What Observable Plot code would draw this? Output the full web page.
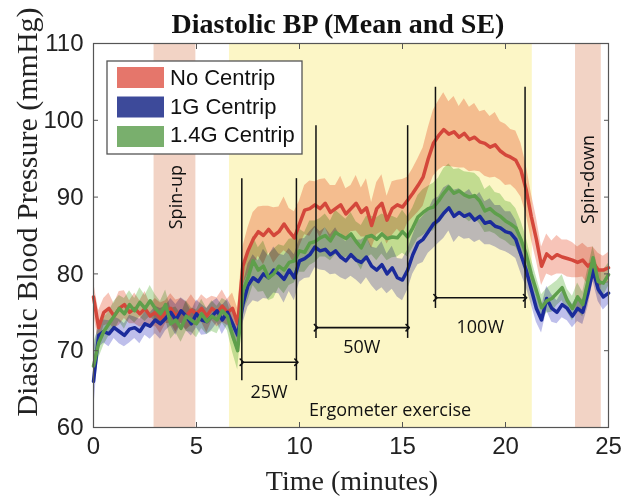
<!DOCTYPE html>
<html><head><meta charset="utf-8">
<script src="https://cdn.jsdelivr.net/npm/d3@7"></script>
<script src="https://cdn.jsdelivr.net/npm/@observablehq/plot@0.6"></script>
<style>body{margin:0;background:#fff}#chart{width:624px;height:500px}</style>
</head><body><div id="chart"></div>
<script>
// ---- data (t = 0 … 25 min, every 0.25 min) ----
const timeStep = 0.25;
const noCentrip = [77,73,75,75.5,74.5,75.5,76,75,75.5,74.8,75.5,74.5,75,74.2,75,75.5,74.5,75.2,74.5,75.3,74.8,75.5,74.5,75.5,75,75.8,75,75.5,
  73.5,81,83,84.5,85.5,85,85.8,85,85.5,86.5,85.5,84.7,
  86.5,88.3,88.5,89,88.5,89.2,88,88.5,89,87.8,88.5,89.2,88,88.6,86.3,88.5,89.2,87,88.5,89,88.7,89.6,
  90.5,91.5,92.6,95,97,98,98.8,98.2,98.5,97.8,98.3,97.5,97.8,97.2,97,96.5,96.8,96,95.5,95.2,94.8,93.5,91,
  87.5,84.5,81,82.6,82,82.5,82.2,82,81.8,81.5,81.8,81,81.5,80.5,80.5,80.8];
const g1Centrip = [66,72,72.5,72.2,73,72.5,72,72.8,73,72.5,73.5,73.2,74,73.5,74.2,75,74,75.2,74.5,73.5,74.8,74,73.8,74.5,75.2,74,75,73.5,
  72,76,78.5,79.5,79,80,79.5,80.5,80,79.3,80.5,79.5,
  81.7,82,82.5,83.5,83,83.2,82.5,83,82.2,81.7,82.5,81.8,81.5,82.2,81,80.5,81.2,80,80.8,79.5,79.2,80.5,
  82.5,84,84.5,85.5,86.5,87,87.9,88.6,87.5,88,87.5,87.8,87,87.5,86.6,86.8,86.2,86,85.5,85.3,84.5,82.5,80.5,
  78,75.5,74,76.8,75.5,75,76,75.5,74.5,75.5,75,77.5,80.5,78,77,77.5];
const g14Centrip = [68,71,72.5,73.5,74.5,75.5,74.8,76,75.2,76.3,75.5,76.5,75.5,74.8,76,73.5,74,72.9,74.5,74,73.5,74.8,73.8,74.5,74,75.2,74.5,72,
  70,77.8,79.5,81.7,80.5,81,79.5,80,81,80.5,81.5,81.7,
  83,82.8,84,84.2,84.7,85,84.3,85.4,85,84.6,85.2,84.2,83.4,84.8,85,84.5,85.2,84.6,84.8,84.7,85.5,84.8,
  86,87.4,88,88.5,88.7,89.5,90.5,91.3,90.5,90.8,90.3,90,90.2,89.5,88.2,88.5,87.9,87.5,86.9,86.5,86,84.5,82.6,
  80,77.8,75.6,76.5,76.8,77.5,78.2,76.5,75.5,77,76,79,82.1,79,78.8,79.9];
const seNoCentrip = [2.0,2.2,1.8,2.0,1.6,2.2,1.8,1.5,2.0,1.7,2.2,1.6,1.8,2.0,1.5,1.9,2.1,1.6,1.8,2.0,1.5,1.8,2.2,1.6,1.9,2.1,1.7,2.0,
  2.0,2.5,3.0,3.5,3.2,3.8,3.0,3.6,3.2,3.5,3.0,3.4,
  3.0,3.2,3.6,3.0,3.8,3.2,3.5,3.0,3.7,3.3,3.0,3.6,3.2,3.8,3.0,3.4,3.7,3.1,3.5,3.2,3.6,3.0,
  3.2,3.5,3.8,4.0,4.3,4.5,4.8,4.2,4.6,4.0,4.5,4.2,4.4,3.9,4.3,4.0,4.2,3.8,4.0,3.6,3.8,3.5,3.2,
  3.0,2.8,2.5,2.6,2.3,2.5,2.2,2.4,2.3,2.0,2.2,2.4,2.0,2.2,1.8,2.0];
const seG1Centrip = [4.0,1.6,1.5,1.7,1.4,1.6,1.5,1.8,1.4,1.6,1.5,1.7,1.8,2.0,1.6,1.8,2.0,1.7,1.9,1.6,1.8,2.0,1.7,1.8,1.6,1.9,1.7,2.0,
  2.2,2.5,2.8,3.0,2.7,3.2,2.8,3.0,2.6,3.1,2.8,3.0,
  2.8,2.6,3.0,2.7,2.5,2.8,2.6,3.0,2.7,2.5,2.8,2.6,2.9,2.7,2.5,2.8,3.0,2.6,2.8,2.5,2.7,2.6,
  2.5,2.8,3.0,2.8,3.2,3.0,3.3,3.0,3.4,3.1,3.0,3.2,2.9,3.1,2.8,3.0,2.7,2.9,2.6,2.8,2.5,2.4,2.2,
  2.0,1.8,1.7,1.6,1.8,1.5,1.7,1.6,1.5,1.7,1.6,1.8,1.5,1.6,1.7,1.5];
const seG14Centrip = [3.0,2.0,1.8,1.6,1.9,1.7,2.0,1.8,1.6,1.9,1.7,2.0,1.8,1.6,1.9,2.0,1.7,1.8,2.0,1.6,1.8,1.9,1.7,2.0,1.8,1.6,1.9,2.2,
  2.5,2.8,3.0,3.2,2.9,3.3,3.0,3.2,2.8,3.1,3.0,2.9,
  2.8,2.6,2.9,2.7,2.5,2.8,2.6,2.9,2.7,2.5,2.8,2.6,2.9,2.7,2.5,2.8,2.6,2.9,2.7,2.5,2.8,2.6,
  2.6,2.8,3.0,2.9,3.1,3.0,3.2,3.0,3.1,2.9,3.0,3.2,2.9,3.0,2.8,3.0,2.7,2.9,2.6,2.8,2.5,2.4,2.2,
  2.0,1.8,1.7,1.6,1.8,1.6,1.7,1.5,1.6,1.8,1.6,1.7,1.5,1.6,1.7,1.5];

const seriesNames = ["No Centrip", "1G Centrip", "1.4G Centrip"];
const seriesMeans = [noCentrip, g1Centrip, g14Centrip];
const seriesSE = [seNoCentrip, seG1Centrip, seG14Centrip];
const lineColors = ["#d4473b", "#1b2b9b", "#5e9f4b"];
const bandColors = ["#f3ab9a", "#a3a4e2", "#acd89c"];
const legendColors = ["#e2675b", "#28368f", "#6aa65d"];

// phases
const spinNames = ["Spin-up", "Spin-down"];
const spinStart = [2.94, 23.4];
const spinEnd = [4.97, 24.65];
const spinLabelX = [4.0, 24.0];
const spinLabelY = [90.0, 92.3];
const exerciseName = "Ergometer exercise";
const exerciseStart = 6.6, exerciseEnd = 21.3;
const exerciseLabelX = 14.4, exerciseLabelY = 62.2;

// workload stages
const stageNames = ["25W", "50W", "100W"];
const stageStart = [7.2, 10.8, 16.6];
const stageEnd = [9.85, 15.25, 20.95];
const stageTop = [92.4, 99.3, 104.3];
const stageBottom = [66.1, 71.6, 75.5];
const stageArrowY = [68.5, 73.0, 76.9];
const stageLabelY = [64.6, 70.4, 73.0];

const xTicks = [0, 5, 10, 15, 20, 25];
const yTicks = [60, 70, 80, 90, 100, 110];

// ---- tables ----
const times = noCentrip.map((_, i) => i * timeStep);
const series = seriesNames.map((name, s) => times.map((t, i) => ({
  name, t, mean: seriesMeans[s][i],
  lo: seriesMeans[s][i] - seriesSE[s][i], hi: seriesMeans[s][i] + seriesSE[s][i]
})));
const spins = spinNames.map((name, i) => ({name, start: spinStart[i], end: spinEnd[i], lx: spinLabelX[i], ly: spinLabelY[i]}));
const exercise = [{name: exerciseName, start: exerciseStart, end: exerciseEnd, lx: exerciseLabelX, ly: exerciseLabelY}];
const stages = stageNames.map((name, i) => ({name, start: stageStart[i], end: stageEnd[i], top: stageTop[i],
  bottom: stageBottom[i], ay: stageArrowY[i], ly: stageLabelY[i], mid: (stageStart[i] + stageEnd[i]) / 2}));

const tickFont = "Liberation Sans, Arial, sans-serif";
const annFont = "Open Sans, sans-serif";

const chart = Plot.plot({
  width: 624, height: 500,
  marginLeft: 93, marginRight: 16, marginTop: 43, marginBottom: 73,
  x: {domain: [0, 25]},
  y: {domain: [60, 110]},
  style: {background: "white", color: "#222"},
  marks: [
    Plot.rect(exercise, {x1: "start", x2: "end", fill: "#fcf6c6"}),
    Plot.rect(spins, {x1: "start", x2: "end", fill: "#f2d3c5"}),
    ...series.map((d, s) => Plot.areaY(d, {x: "t", y1: "lo", y2: "hi", fill: bandColors[s], fillOpacity: 0.7, mixBlendMode: "multiply"})),
    ...series.map((d, s) => Plot.lineY(d, {x: "t", y: "mean", stroke: lineColors[s], strokeWidth: 3.5, strokeLinejoin: "round"})),
    Plot.ruleX(stages, {x: "start", y1: "bottom", y2: "top", stroke: "#111", strokeWidth: 1.5}),
    Plot.ruleX(stages, {x: "end", y1: "bottom", y2: "top", stroke: "#111", strokeWidth: 1.5}),
    Plot.link(stages, {x1: "start", x2: "end", y1: "ay", y2: "ay", stroke: "#111", strokeWidth: 1.6, markerStart: "arrow", markerEnd: "arrow"}),
    Plot.text(stages, {x: "mid", y: "ly", text: "name", fontSize: 18, fontFamily: annFont, fill: "#111"}),
    Plot.text(spins, {x: "lx", y: "ly", text: "name", rotate: -90, fontSize: 18, fontFamily: annFont, fill: "#111"}),
    Plot.text(exercise, {x: "lx", y: "ly", text: "name", fontSize: 18, fontFamily: annFont, fill: "#111"}),
    Plot.frame({stroke: "#555", strokeWidth: 1.2}),
    Plot.axisX({ticks: xTicks, tickSize: -5, tickPadding: 14, fontSize: 24, fontFamily: tickFont, label: null, stroke: "#555"}),
    Plot.axisX({anchor: "top", ticks: xTicks, tickSize: -5, tickFormat: () => "", label: null, stroke: "#555"}),
    Plot.axisY({ticks: yTicks, tickSize: -5, tickPadding: 15, fontSize: 24, fontFamily: tickFont, label: null, stroke: "#555"}),
    Plot.axisY({anchor: "right", ticks: yTicks, tickSize: -5, tickFormat: () => "", label: null, stroke: "#555"})
  ]
});
document.getElementById("chart").append(chart);

// ---- titles and legend ----
const svg = d3.select(chart);
svg.append("text").attr("x", 338).attr("y", 33).attr("text-anchor", "middle")
  .attr("font-family", "Liberation Serif, Times New Roman, serif").attr("font-weight", "bold").attr("font-size", 28)
  .attr("fill", "#111").text("Diastolic BP (Mean and SE)");
svg.append("text").attr("transform", "translate(37,212) rotate(-90)").attr("text-anchor", "middle")
  .attr("font-family", "Liberation Serif, Times New Roman, serif").attr("font-size", 30)
  .attr("fill", "#222").text("Diastolic Blood Pressure (mmHg)");
svg.append("text").attr("x", 352).attr("y", 490).attr("text-anchor", "middle")
  .attr("font-family", "Liberation Serif, Times New Roman, serif").attr("font-size", 28)
  .attr("fill", "#222").text("Time (minutes)");

const lg = svg.append("g");
lg.append("rect").attr("x", 107).attr("y", 61).attr("width", 195).attr("height", 93)
  .attr("fill", "white").attr("stroke", "#555").attr("stroke-width", 1.3);
seriesNames.forEach((name, i) => {
  lg.append("rect").attr("x", 117).attr("y", 67 + i * 29.5).attr("width", 47).attr("height", 21)
    .attr("fill", legendColors[i]).attr("opacity", 0.9);
  lg.append("text").attr("x", 170).attr("y", 85 + i * 28.5).attr("text-anchor", "start")
    .attr("font-family", tickFont).attr("font-size", 22).attr("fill", "#111").text(name);
});
</script>
</body></html>
